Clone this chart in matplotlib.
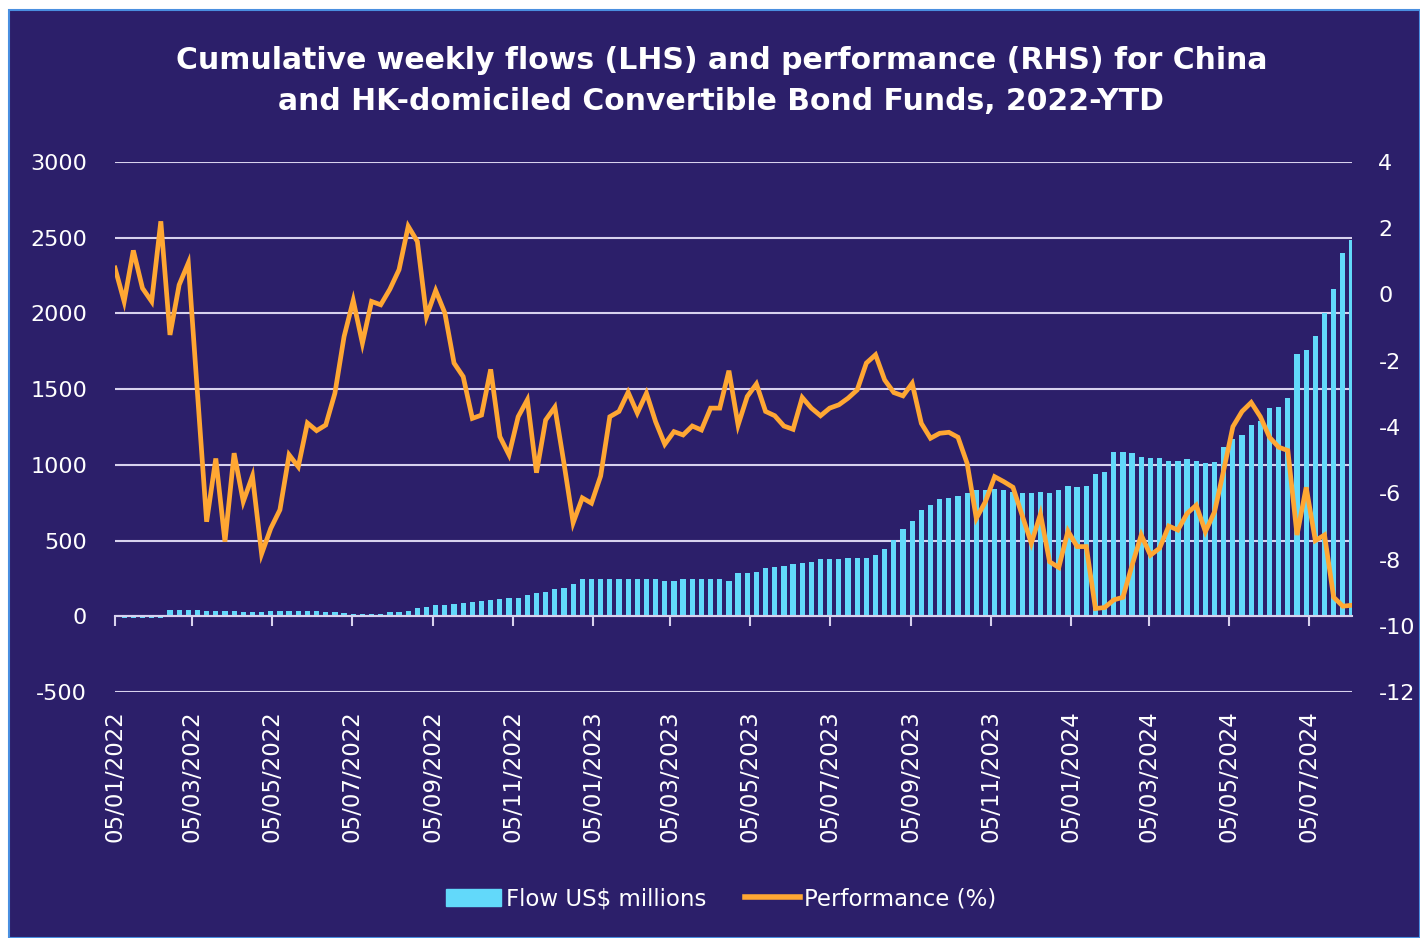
import pandas as pd
import matplotlib
matplotlib.use("Agg")
import matplotlib.pyplot as plt
import matplotlib.transforms as mtransforms
from matplotlib.patches import Patch, Rectangle
from matplotlib.lines import Line2D

# 週次データ (水曜日) 2022-01-05 〜 2024-08-14
start_date = "2022-01-05"

flows = [
    0, -10, -10, -10, -10, -10, 40, 40, 40, 40,
    35, 35, 35, 35, 30, 25, 30, 35, 35, 35,
    35, 33, 38, 29, 29, 22, 18, 18, 18, 18,
    29, 29, 38, 55, 62, 77, 77, 82, 88, 93,
    99, 106, 115, 121, 121, 139, 154, 161, 181, 188,
    214, 243, 249, 249, 249, 243, 249, 243, 243, 243,
    236, 236, 243, 249, 249, 249, 243, 232, 283, 283,
    291, 316, 327, 335, 342, 353, 360, 375, 375, 375,
    386, 386, 386, 402, 446, 503, 578, 629, 700, 733,
    772, 783, 795, 817, 832, 832, 843, 832, 821, 817,
    817, 823, 817, 832, 861, 854, 861, 942, 953, 1086,
    1086, 1077, 1053, 1046, 1046, 1026, 1026, 1037, 1026, 1015,
    1020, 1115, 1174, 1196, 1265, 1291, 1375, 1384, 1441, 1732,
    1761, 1849, 2002, 2163, 2399, 2487,
]

performance = [
    0.80, -0.21, 1.33, 0.19, -0.21, 2.21, -1.22, 0.29, 0.95, -2.98,
    -6.86, -4.95, -7.46, -4.79, -6.25, -5.48, -7.83, -7.06, -6.50, -4.84,
    -5.20, -3.88, -4.11, -3.94, -2.98, -1.27, -0.18, -1.47, -0.21, -0.31,
    0.16, 0.75, 2.06, 1.60, -0.66, 0.12, -0.56, -2.07, -2.48, -3.74,
    -3.64, -2.26, -4.29, -4.84, -3.69, -3.18, -5.38, -3.79, -3.40, -5.10,
    -6.89, -6.14, -6.30, -5.48, -3.69, -3.53, -2.95, -3.58, -2.98, -3.84,
    -4.52, -4.14, -4.24, -3.97, -4.09, -3.43, -3.43, -2.30, -3.94, -3.08,
    -2.70, -3.53, -3.66, -3.97, -4.07, -3.11, -3.43, -3.66, -3.43, -3.33,
    -3.13, -2.88, -2.07, -1.82, -2.58, -2.96, -3.06, -2.68, -3.89, -4.34,
    -4.19, -4.16, -4.31, -5.10, -6.76, -6.25, -5.50, -5.65, -5.82, -6.66,
    -7.51, -6.63, -8.07, -8.24, -7.14, -7.61, -7.61, -9.48, -9.45, -9.22,
    -9.14, -8.17, -7.26, -7.87, -7.66, -6.99, -7.11, -6.61, -6.36, -7.16,
    -6.56, -5.30, -3.99, -3.53, -3.26, -3.69, -4.31, -4.61, -4.71, -7.26,
    -5.82, -7.43, -7.26, -9.14, -9.41, -9.38,
]

tick_dates = pd.date_range("2022-01-01", "2024-07-01", freq="2MS") + pd.Timedelta(days=4)
left_ticks = [-500, 0, 500, 1000, 1500, 2000, 2500, 3000]
right_ticks = [-12, -10, -8, -6, -4, -2, 0, 2, 4]

title = ("Cumulative weekly flows (LHS) and performance (RHS) for China\n"
         "and HK-domiciled Convertible Bond Funds, 2022-YTD")

BG = "#2c1f6a"
BAR = "#62d9fa"
LINE = "#ffa733"
GRID = "#d8d2ee"
TXT = "#ffffff"

plt.rcParams["font.family"] = ["DejaVu Sans"]
plt.rcParams["axes.unicode_minus"] = False

dates = pd.date_range(start_date, periods=len(flows), freq="7D")

fig = plt.figure(figsize=(14.2, 9.38), dpi=100, facecolor="white")
# 背景パネル
fig.patches.append(Rectangle((9 / 1420, 0), 1 - 9 / 1420, 1 - 10 / 938,
                             transform=fig.transFigure, facecolor=BG,
                             edgecolor="#4a8fe0", linewidth=1.5, zorder=-5))

ax = fig.add_axes([115 / 1420, 1 - 692 / 938, (1352 - 115) / 1420, (692 - 162) / 938])
ax.patch.set_visible(False)

ax.bar(dates, flows, width=4, color=BAR, zorder=2)
ax.set_ylim(-500, 3000)
ax.set_yticks(left_ticks)
ax.set_xlim(dates[0], dates[-1])
ax.grid(axis="y", color=GRID, linewidth=1.5)
ax.set_axisbelow(True)

for s in ["top", "right", "left"]:
    ax.spines[s].set_visible(False)
ax.spines["bottom"].set_position(("data", 0))
ax.spines["bottom"].set_color(GRID)
ax.spines["bottom"].set_linewidth(1.5)
ax.spines["bottom"].set_zorder(3)

ax.set_xticks(tick_dates)
ax.tick_params(axis="x", direction="out", length=7, width=1.5, color=GRID, labelbottom=False)
ax.tick_params(axis="y", length=0, pad=20, labelsize=16, labelcolor=TXT)

# 日付ラベル (下側に縦書き)
trans = mtransforms.blended_transform_factory(ax.transData, ax.transAxes)
for d in tick_dates:
    ax.text(d, -0.035, d.strftime("%d/%m/%Y"), transform=trans, rotation=90,
            ha="center", va="top", fontsize=16.5, color=TXT)

ax2 = ax.twinx()
ax2.plot(dates, performance, color=LINE, linewidth=3.4, solid_joinstyle="miter", zorder=4)
ax2.set_ylim(-12, 4)
ax2.set_yticks(right_ticks)
ax2.tick_params(axis="y", length=0, pad=19, labelsize=16, labelcolor=TXT)
for s in ax2.spines.values():
    s.set_visible(False)

fig.text(0.508, 1 - 81 / 938, title, ha="center", va="center", color=TXT,
         fontsize=21.5, fontweight="bold", linespacing=1.55)

handles = [Patch(facecolor=BAR, edgecolor=BAR), Line2D([], [], color=LINE, linewidth=4)]
fig.legend(handles, ["Flow US$ millions", "Performance (%)"], loc="center",
           bbox_to_anchor=(0.508, 1 - 899 / 938), ncol=2, frameon=False,
           fontsize=16.5, labelcolor=TXT, handlelength=2.4, handletextpad=0.2,
           columnspacing=1.7)

fig.savefig("out.png", dpi=100, facecolor=fig.get_facecolor())
